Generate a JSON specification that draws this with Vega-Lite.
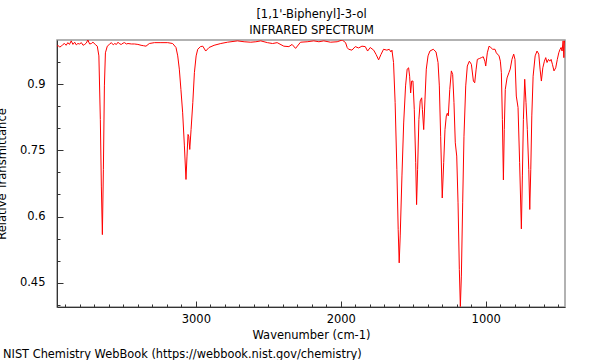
{
  "$schema": "https://vega.github.io/schema/vega-lite/v6.json",
  "autosize": "none",
  "padding": {"left": 57, "top": 40, "right": 35, "bottom": 53},
  "width": 508,
  "height": 267,
  "background": "white",
  "config": {
    "font": "DejaVu Sans",
    "view": {"stroke": "#999999", "strokeWidth": 1.5},
    "axis": {"domainColor": "#333333", "tickColor": "#333333", "labelColor": "#000000", "titleColor": "#000000", "labelFont": "DejaVu Sans", "titleFont": "DejaVu Sans", "labelFontSize": 11.5, "titleFontSize": 11.5, "titleFontWeight": "normal", "grid": false, "labelOverlap": false},
    "title": {"font": "DejaVu Sans", "fontSize": 11.4, "fontWeight": "normal", "color": "#000000"}
  },
  "title": {"text": "NIST Chemistry WebBook (https://webbook.nist.gov/chemistry)", "orient": "bottom", "anchor": "start", "frame": "group", "dx": -54, "offset": 8},
  "resolve": {"axis": {"y": "independent"}},
  "data": {"values": [
    {"wavenumber": 3958, "transmittance": 0.985},
    {"wavenumber": 3952, "transmittance": 0.988},
    {"wavenumber": 3940, "transmittance": 0.984},
    {"wavenumber": 3928, "transmittance": 0.986},
    {"wavenumber": 3917, "transmittance": 0.990},
    {"wavenumber": 3906, "transmittance": 0.992},
    {"wavenumber": 3895, "transmittance": 0.988},
    {"wavenumber": 3883, "transmittance": 0.994},
    {"wavenumber": 3872, "transmittance": 0.990},
    {"wavenumber": 3860, "transmittance": 0.998},
    {"wavenumber": 3848, "transmittance": 0.990},
    {"wavenumber": 3836, "transmittance": 0.995},
    {"wavenumber": 3825, "transmittance": 0.989},
    {"wavenumber": 3814, "transmittance": 0.992},
    {"wavenumber": 3802, "transmittance": 0.991},
    {"wavenumber": 3790, "transmittance": 0.994},
    {"wavenumber": 3778, "transmittance": 0.988},
    {"wavenumber": 3767, "transmittance": 0.990},
    {"wavenumber": 3756, "transmittance": 0.993},
    {"wavenumber": 3745, "transmittance": 1.0},
    {"wavenumber": 3733, "transmittance": 0.991},
    {"wavenumber": 3721, "transmittance": 0.992},
    {"wavenumber": 3710, "transmittance": 0.995},
    {"wavenumber": 3694, "transmittance": 0.990},
    {"wavenumber": 3680, "transmittance": 0.986},
    {"wavenumber": 3669, "transmittance": 0.964},
    {"wavenumber": 3659, "transmittance": 0.820},
    {"wavenumber": 3652, "transmittance": 0.669},
    {"wavenumber": 3645, "transmittance": 0.559},
    {"wavenumber": 3638, "transmittance": 0.707},
    {"wavenumber": 3631, "transmittance": 0.896},
    {"wavenumber": 3624, "transmittance": 0.971},
    {"wavenumber": 3611, "transmittance": 0.986},
    {"wavenumber": 3597, "transmittance": 0.990},
    {"wavenumber": 3583, "transmittance": 0.994},
    {"wavenumber": 3570, "transmittance": 0.989},
    {"wavenumber": 3560, "transmittance": 0.992},
    {"wavenumber": 3548, "transmittance": 0.990},
    {"wavenumber": 3537, "transmittance": 0.995},
    {"wavenumber": 3525, "transmittance": 0.991},
    {"wavenumber": 3514, "transmittance": 0.990},
    {"wavenumber": 3502, "transmittance": 0.993},
    {"wavenumber": 3491, "transmittance": 0.994},
    {"wavenumber": 3480, "transmittance": 0.991},
    {"wavenumber": 3468, "transmittance": 0.992},
    {"wavenumber": 3445, "transmittance": 0.991},
    {"wavenumber": 3424, "transmittance": 0.991},
    {"wavenumber": 3400, "transmittance": 0.990},
    {"wavenumber": 3378, "transmittance": 0.988},
    {"wavenumber": 3360, "transmittance": 0.987},
    {"wavenumber": 3344, "transmittance": 0.986},
    {"wavenumber": 3321, "transmittance": 0.992},
    {"wavenumber": 3286, "transmittance": 0.994},
    {"wavenumber": 3241, "transmittance": 0.994},
    {"wavenumber": 3194, "transmittance": 0.994},
    {"wavenumber": 3160, "transmittance": 0.992},
    {"wavenumber": 3137, "transmittance": 0.983},
    {"wavenumber": 3125, "transmittance": 0.964},
    {"wavenumber": 3114, "transmittance": 0.934},
    {"wavenumber": 3103, "transmittance": 0.888},
    {"wavenumber": 3091, "transmittance": 0.835},
    {"wavenumber": 3079, "transmittance": 0.760},
    {"wavenumber": 3068, "transmittance": 0.684},
    {"wavenumber": 3061, "transmittance": 0.737},
    {"wavenumber": 3054, "transmittance": 0.786},
    {"wavenumber": 3049, "transmittance": 0.782},
    {"wavenumber": 3042, "transmittance": 0.752},
    {"wavenumber": 3033, "transmittance": 0.797},
    {"wavenumber": 3021, "transmittance": 0.858},
    {"wavenumber": 3010, "transmittance": 0.926},
    {"wavenumber": 2998, "transmittance": 0.964},
    {"wavenumber": 2987, "transmittance": 0.979},
    {"wavenumber": 2968, "transmittance": 0.985},
    {"wavenumber": 2952, "transmittance": 0.986},
    {"wavenumber": 2932, "transmittance": 0.975},
    {"wavenumber": 2909, "transmittance": 0.983},
    {"wavenumber": 2874, "transmittance": 0.988},
    {"wavenumber": 2828, "transmittance": 0.992},
    {"wavenumber": 2782, "transmittance": 0.995},
    {"wavenumber": 2713, "transmittance": 0.998},
    {"wavenumber": 2667, "transmittance": 0.996},
    {"wavenumber": 2621, "transmittance": 0.995},
    {"wavenumber": 2586, "transmittance": 0.996},
    {"wavenumber": 2552, "transmittance": 0.998},
    {"wavenumber": 2506, "transmittance": 0.994},
    {"wavenumber": 2471, "transmittance": 0.992},
    {"wavenumber": 2439, "transmittance": 0.994},
    {"wavenumber": 2393, "transmittance": 0.986},
    {"wavenumber": 2358, "transmittance": 0.985},
    {"wavenumber": 2336, "transmittance": 0.990},
    {"wavenumber": 2312, "transmittance": 0.981},
    {"wavenumber": 2278, "transmittance": 0.995},
    {"wavenumber": 2232, "transmittance": 0.996},
    {"wavenumber": 2186, "transmittance": 0.998},
    {"wavenumber": 2151, "transmittance": 0.996},
    {"wavenumber": 2117, "transmittance": 0.998},
    {"wavenumber": 2071, "transmittance": 0.995},
    {"wavenumber": 2025, "transmittance": 0.996},
    {"wavenumber": 1990, "transmittance": 1.0},
    {"wavenumber": 1967, "transmittance": 0.994},
    {"wavenumber": 1956, "transmittance": 0.983},
    {"wavenumber": 1946, "transmittance": 0.979},
    {"wavenumber": 1923, "transmittance": 0.977},
    {"wavenumber": 1900, "transmittance": 0.985},
    {"wavenumber": 1877, "transmittance": 0.982},
    {"wavenumber": 1854, "transmittance": 0.986},
    {"wavenumber": 1831, "transmittance": 0.985},
    {"wavenumber": 1815, "transmittance": 0.975},
    {"wavenumber": 1797, "transmittance": 0.983},
    {"wavenumber": 1773, "transmittance": 0.977},
    {"wavenumber": 1756, "transmittance": 0.967},
    {"wavenumber": 1739, "transmittance": 0.955},
    {"wavenumber": 1723, "transmittance": 0.967},
    {"wavenumber": 1705, "transmittance": 0.979},
    {"wavenumber": 1682, "transmittance": 0.977},
    {"wavenumber": 1666, "transmittance": 0.979},
    {"wavenumber": 1654, "transmittance": 0.973},
    {"wavenumber": 1647, "transmittance": 0.977},
    {"wavenumber": 1636, "transmittance": 0.949},
    {"wavenumber": 1625, "transmittance": 0.858},
    {"wavenumber": 1613, "transmittance": 0.707},
    {"wavenumber": 1604, "transmittance": 0.571},
    {"wavenumber": 1597, "transmittance": 0.495},
    {"wavenumber": 1590, "transmittance": 0.556},
    {"wavenumber": 1578, "transmittance": 0.692},
    {"wavenumber": 1566, "transmittance": 0.812},
    {"wavenumber": 1553, "transmittance": 0.896},
    {"wavenumber": 1542, "transmittance": 0.934},
    {"wavenumber": 1532, "transmittance": 0.937},
    {"wavenumber": 1525, "transmittance": 0.918},
    {"wavenumber": 1518, "transmittance": 0.880},
    {"wavenumber": 1511, "transmittance": 0.907},
    {"wavenumber": 1502, "transmittance": 0.907},
    {"wavenumber": 1493, "transmittance": 0.843},
    {"wavenumber": 1483, "transmittance": 0.722},
    {"wavenumber": 1477, "transmittance": 0.627},
    {"wavenumber": 1470, "transmittance": 0.707},
    {"wavenumber": 1461, "transmittance": 0.820},
    {"wavenumber": 1452, "transmittance": 0.862},
    {"wavenumber": 1442, "transmittance": 0.869},
    {"wavenumber": 1437, "transmittance": 0.843},
    {"wavenumber": 1428, "transmittance": 0.797},
    {"wavenumber": 1419, "transmittance": 0.866},
    {"wavenumber": 1410, "transmittance": 0.934},
    {"wavenumber": 1398, "transmittance": 0.964},
    {"wavenumber": 1385, "transmittance": 0.975},
    {"wavenumber": 1362, "transmittance": 0.979},
    {"wavenumber": 1343, "transmittance": 0.973},
    {"wavenumber": 1329, "transmittance": 0.949},
    {"wavenumber": 1320, "transmittance": 0.896},
    {"wavenumber": 1311, "transmittance": 0.782},
    {"wavenumber": 1300, "transmittance": 0.642},
    {"wavenumber": 1290, "transmittance": 0.722},
    {"wavenumber": 1281, "transmittance": 0.797},
    {"wavenumber": 1272, "transmittance": 0.828},
    {"wavenumber": 1265, "transmittance": 0.834},
    {"wavenumber": 1258, "transmittance": 0.828},
    {"wavenumber": 1248, "transmittance": 0.888},
    {"wavenumber": 1237, "transmittance": 0.930},
    {"wavenumber": 1228, "transmittance": 0.922},
    {"wavenumber": 1219, "transmittance": 0.858},
    {"wavenumber": 1210, "transmittance": 0.767},
    {"wavenumber": 1200, "transmittance": 0.737},
    {"wavenumber": 1191, "transmittance": 0.631},
    {"wavenumber": 1182, "transmittance": 0.480},
    {"wavenumber": 1175, "transmittance": 0.396},
    {"wavenumber": 1168, "transmittance": 0.465},
    {"wavenumber": 1159, "transmittance": 0.631},
    {"wavenumber": 1150, "transmittance": 0.782},
    {"wavenumber": 1138, "transmittance": 0.896},
    {"wavenumber": 1127, "transmittance": 0.941},
    {"wavenumber": 1113, "transmittance": 0.952},
    {"wavenumber": 1099, "transmittance": 0.945},
    {"wavenumber": 1085, "transmittance": 0.907},
    {"wavenumber": 1076, "transmittance": 0.903},
    {"wavenumber": 1066, "transmittance": 0.934},
    {"wavenumber": 1058, "transmittance": 0.956},
    {"wavenumber": 1044, "transmittance": 0.958},
    {"wavenumber": 1030, "transmittance": 0.960},
    {"wavenumber": 1017, "transmittance": 0.962},
    {"wavenumber": 1006, "transmittance": 0.952},
    {"wavenumber": 1000, "transmittance": 0.941},
    {"wavenumber": 989, "transmittance": 0.971},
    {"wavenumber": 977, "transmittance": 0.986},
    {"wavenumber": 965, "transmittance": 0.983},
    {"wavenumber": 952, "transmittance": 0.979},
    {"wavenumber": 936, "transmittance": 0.979},
    {"wavenumber": 927, "transmittance": 0.971},
    {"wavenumber": 908, "transmittance": 0.964},
    {"wavenumber": 899, "transmittance": 0.952},
    {"wavenumber": 892, "transmittance": 0.926},
    {"wavenumber": 885, "transmittance": 0.820},
    {"wavenumber": 878, "transmittance": 0.683},
    {"wavenumber": 872, "transmittance": 0.797},
    {"wavenumber": 865, "transmittance": 0.888},
    {"wavenumber": 853, "transmittance": 0.914},
    {"wavenumber": 840, "transmittance": 0.926},
    {"wavenumber": 831, "transmittance": 0.934},
    {"wavenumber": 819, "transmittance": 0.956},
    {"wavenumber": 807, "transmittance": 0.968},
    {"wavenumber": 798, "transmittance": 0.956},
    {"wavenumber": 789, "transmittance": 0.873},
    {"wavenumber": 777, "transmittance": 0.847},
    {"wavenumber": 766, "transmittance": 0.722},
    {"wavenumber": 754, "transmittance": 0.572},
    {"wavenumber": 747, "transmittance": 0.692},
    {"wavenumber": 740, "transmittance": 0.820},
    {"wavenumber": 731, "transmittance": 0.911},
    {"wavenumber": 722, "transmittance": 0.858},
    {"wavenumber": 713, "transmittance": 0.797},
    {"wavenumber": 703, "transmittance": 0.707},
    {"wavenumber": 696, "transmittance": 0.616},
    {"wavenumber": 689, "transmittance": 0.707},
    {"wavenumber": 682, "transmittance": 0.828},
    {"wavenumber": 673, "transmittance": 0.918},
    {"wavenumber": 659, "transmittance": 0.964},
    {"wavenumber": 646, "transmittance": 0.975},
    {"wavenumber": 634, "transmittance": 0.968},
    {"wavenumber": 625, "transmittance": 0.934},
    {"wavenumber": 616, "transmittance": 0.907},
    {"wavenumber": 606, "transmittance": 0.937},
    {"wavenumber": 595, "transmittance": 0.952},
    {"wavenumber": 586, "transmittance": 0.960},
    {"wavenumber": 577, "transmittance": 0.949},
    {"wavenumber": 567, "transmittance": 0.956},
    {"wavenumber": 558, "transmittance": 0.952},
    {"wavenumber": 549, "transmittance": 0.956},
    {"wavenumber": 540, "transmittance": 0.945},
    {"wavenumber": 529, "transmittance": 0.930},
    {"wavenumber": 517, "transmittance": 0.937},
    {"wavenumber": 506, "transmittance": 0.956},
    {"wavenumber": 496, "transmittance": 0.971},
    {"wavenumber": 487, "transmittance": 0.979},
    {"wavenumber": 480, "transmittance": 0.983},
    {"wavenumber": 473, "transmittance": 0.975},
    {"wavenumber": 466, "transmittance": 0.998},
    {"wavenumber": 461, "transmittance": 0.960},
    {"wavenumber": 457, "transmittance": 0.998},
    {"wavenumber": 453, "transmittance": 0.994}
  ]},
  "layer": [
    {
      "mark": {"type": "line", "color": "#ff0000", "strokeWidth": 1, "clip": true},
      "encoding": {
        "x": {
          "field": "wavenumber", "type": "quantitative",
          "scale": {"domain": [453, 3958], "reverse": true, "nice": false, "zero": false},
          "axis": {
            "orient": "bottom",
            "title": "Wavenumber (cm-1)",
            "values": [500, 600, 700, 800, 900, 1000, 1100, 1200, 1300, 1400, 1500, 1600, 1700, 1800, 1900, 2000, 2100, 2200, 2300, 2400, 2500, 2600, 2700, 2800, 2900, 3000, 3100, 3200, 3300, 3400, 3500, 3600, 3700, 3800, 3900],
            "format": "d",
            "labelExpr": "datum.value % 1000 === 0 ? datum.label : ''",
            "tickSize": {"condition": {"test": "datum.value % 1000 === 0", "value": -6}, "value": -3},
            "labelPadding": 12,
            "titlePadding": 2,
            "labelFlush": false,
            "labelOverlap": false
          }
        },
        "y": {
          "field": "transmittance", "type": "quantitative",
          "scale": {"domain": [0.395, 1.0], "nice": false, "zero": false},
          "axis": {
            "orient": "left",
            "title": "Relative Transmittance",
            "values": [0.45, 0.6, 0.75, 0.9],
            "format": ".2~f",
            "tickSize": -6,
            "labelPadding": 18,
            "titlePadding": 12,
            "labelFlush": false,
            "labelOverlap": false
          }
        }
      }
    },
    {
      "mark": {"type": "line", "opacity": 0},
      "encoding": {
        "x": {
          "field": "wavenumber", "type": "quantitative",
          "axis": {
            "orient": "top",
            "title": ["[1,1'-Biphenyl]-3-ol", "INFRARED SPECTRUM"],
            "domain": false, "ticks": false, "labels": false,
            "titlePadding": 5,
            "titleLineHeight": 16
          }
        },
        "y": {
          "field": "transmittance", "type": "quantitative",
          "axis": {
            "orient": "left",
            "title": null,
            "values": [0.4, 0.45, 0.5, 0.55, 0.6, 0.65, 0.7, 0.75, 0.8, 0.85, 0.9, 0.95],
            "labels": false,
            "domain": false,
            "tickSize": -3
          }
        }
      }
    }
  ]
}
